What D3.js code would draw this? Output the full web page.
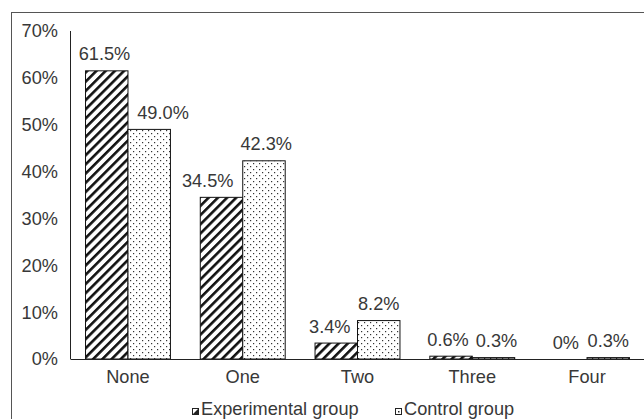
<!DOCTYPE html>
<html>
<head>
<meta charset="utf-8">
<script src="https://cdn.jsdelivr.net/npm/d3@7"></script>
<style>
  body { margin: 0; background: #fff; }
  text { font-family: "Liberation Sans", Arial, sans-serif; fill: #383838; }
</style>
</head>
<body>
<svg width="644" height="419"></svg>
<script>
  const categories = ['None', 'One', 'Two', 'Three', 'Four'];
  const experimental = [61.5, 34.5, 3.4, 0.6, 0];
  const control = [49.0, 42.3, 8.2, 0.3, 0.3];
  const expLabels = ['61.5%', '34.5%', '3.4%', '0.6%', '0%'];
  const ctrlLabels = ['49.0%', '42.3%', '8.2%', '0.3%', '0.3%'];
  const yTicks = [0, 10, 20, 30, 40, 50, 60, 70];
  const seriesNames = ['Experimental group', 'Control group'];

  const svg = d3.select('svg');
  const fontSize = 18.2;
  const labelGap = 10.5;

  // patterns
  const defs = svg.append('defs');
  const stripes = defs.append('pattern')
      .attr('id', 'stripes')
      .attr('patternUnits', 'userSpaceOnUse')
      .attr('width', 6.5).attr('height', 6.5)
      .attr('patternTransform', 'rotate(45)');
  stripes.append('rect').attr('width', 6.5).attr('height', 6.5).attr('fill', '#fff');
  stripes.append('rect').attr('width', 2.6).attr('height', 6.5).attr('fill', '#111');

  const dots = defs.append('pattern')
      .attr('id', 'dots')
      .attr('patternUnits', 'userSpaceOnUse')
      .attr('width', 6).attr('height', 6);
  dots.append('rect').attr('width', 6).attr('height', 6).attr('fill', '#fff');
  dots.append('rect').attr('x', 1).attr('y', 1).attr('width', 1.2).attr('height', 1.2).attr('fill', '#333');
  dots.append('rect').attr('x', 4).attr('y', 4).attr('width', 1.2).attr('height', 1.2).attr('fill', '#333');

  // outer frame
  svg.append('rect')
      .attr('x', 11.5).attr('y', 12.5)
      .attr('width', 700).attr('height', 500)
      .attr('fill', 'none')
      .attr('stroke', '#555');

  const x0 = d3.scaleBand()
      .domain(categories)
      .range([70.6, 644.4])
      .paddingInner(0.26)
      .paddingOuter(0.13);

  const x1 = d3.scaleBand()
      .domain([0, 1])
      .range([0, x0.bandwidth()]);

  const y = d3.scaleLinear()
      .domain([0, 70])
      .range([359, 31]);

  // y tick labels
  svg.append('g')
    .selectAll('text')
    .data(yTicks)
    .enter().append('text')
      .attr('x', 58)
      .attr('y', d => y(d))
      .attr('dy', '0.35em')
      .attr('text-anchor', 'end')
      .style('font-size', fontSize + 'px')
      .text(d => d + '%');

  // bars
  const series = [
    { values: experimental, labels: expLabels, fill: 'url(#stripes)' },
    { values: control, labels: ctrlLabels, fill: 'url(#dots)' }
  ];

  const labelNodes = [[], []];

  series.forEach((s, i) => {
    const g = svg.append('g');
    g.selectAll('rect')
      .data(categories)
      .enter().append('rect')
        .filter((d, j) => s.values[j] > 0)
        .attr('x', d => x0(d) + x1(i))
        .attr('y', d => y(s.values[categories.indexOf(d)]))
        .attr('width', x1.bandwidth())
        .attr('height', d => y(0) - y(s.values[categories.indexOf(d)]))
        .attr('fill', s.fill)
        .attr('stroke', '#111')
        .attr('stroke-width', 1);

    g.selectAll('text')
      .data(categories)
      .enter().append('text')
        .attr('y', (d, j) => y(s.values[j]) - labelGap)
        .attr('text-anchor', 'middle')
        .style('font-size', fontSize + 'px')
        .text((d, j) => s.labels[j])
        .each(function () { labelNodes[i].push(this); });
  });

  // place labels like Excel does: keep them off the neighbour bar and off each other
  categories.forEach((c, j) => {
    const mid = x0(c) + x1(1);
    const e = labelNodes[0][j], k = labelNodes[1][j];
    const we = e.getComputedTextLength(), wk = k.getComputedTextLength();
    let ce = x0(c) + x1(0) + x1.bandwidth() / 2;
    let ck = x0(c) + x1(1) + x1.bandwidth() / 2;
    if (y(control[j]) < y(experimental[j]) - labelGap) ce = Math.min(ce, mid - 7 - we / 2);
    if (y(experimental[j]) < y(control[j]) - labelGap) ck = Math.max(ck, mid + 7 + wk / 2);
    const gap = (ck - wk / 2) - (ce + we / 2);
    if (gap < 7) { ce -= (7 - gap) / 2; ck += (7 - gap) / 2; }
    d3.select(e).attr('x', ce);
    d3.select(k).attr('x', ck);
  });

  // axes lines
  svg.append('line')
      .attr('x1', 70.5).attr('x2', 70.5)
      .attr('y1', y(70)).attr('y2', y(0))
      .attr('stroke', '#222');
  svg.append('line')
      .attr('x1', 70.5).attr('x2', 644)
      .attr('y1', y(0) + 0.5).attr('y2', y(0) + 0.5)
      .attr('stroke', '#222');

  // category labels
  svg.append('g')
    .selectAll('text')
    .data(categories)
    .enter().append('text')
      .attr('x', d => x0(d) + x0.bandwidth() / 2)
      .attr('y', 382.5)
      .attr('text-anchor', 'middle')
      .style('font-size', fontSize + 'px')
      .text(d => d);

  // legend
  const legendX = [192, 395];
  const legend = svg.append('g');
  seriesNames.forEach((name, i) => {
    const lx = legendX[i];
    legend.append('rect')
        .attr('x', lx + 0.5).attr('y', 408.5)
        .attr('width', 6).attr('height', 6)
        .attr('fill', '#fff')
        .attr('stroke', '#222');
    if (i === 0) {
      legend.append('path')
          .attr('d', `M${lx + 6.5},${408.5} L${lx + 6.5},${414.5} L${lx + 0.5},${414.5} Z`)
          .attr('fill', '#222');
    } else {
      legend.append('rect')
          .attr('x', lx + 3).attr('y', 411)
          .attr('width', 1.5).attr('height', 1.5)
          .attr('fill', '#222');
    }
    legend.append('text')
        .attr('x', lx + 9)
        .attr('y', 415)
        .style('font-size', fontSize + 'px')
        .text(name);
  });
</script>
</body>
</html>
